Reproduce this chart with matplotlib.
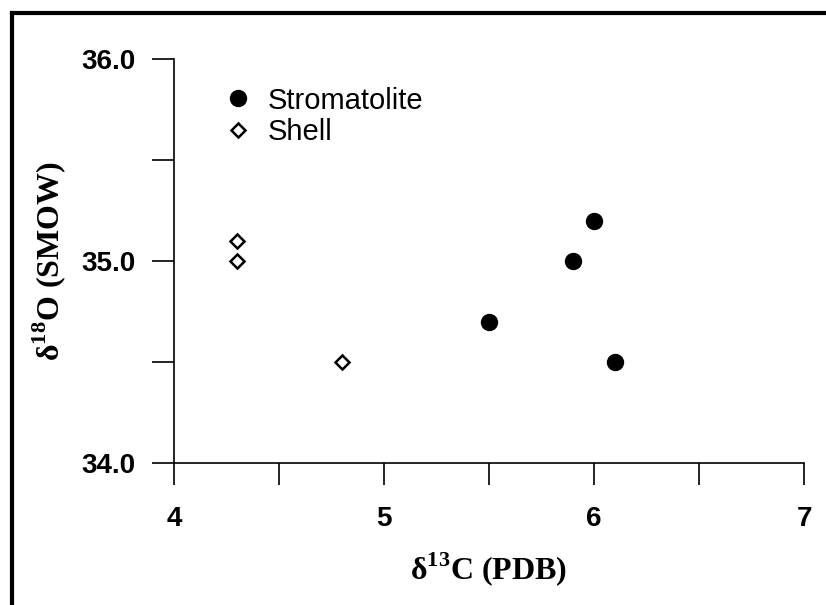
import matplotlib
matplotlib.use("Agg")
import matplotlib.pyplot as plt
from matplotlib.lines import Line2D

# carbon / oxygen isotope values
strom_d13c = [6.0, 5.9, 5.5, 6.1]
strom_d18o = [35.2, 35.0, 34.7, 34.5]
shell_d13c = [4.3, 4.3, 4.8]
shell_d18o = [35.1, 35.0, 34.5]

x_ticks = [4, 4.5, 5, 5.5, 6, 6.5, 7]
x_labels = ["4", "", "5", "", "6", "", "7"]
y_ticks = [34.0, 34.5, 35.0, 35.5, 36.0]
y_labels = ["34.0", "", "35.0", "", "36.0"]

plt.rcParams["mathtext.fontset"] = "custom"
plt.rcParams["mathtext.rm"] = "Liberation Serif"
plt.rcParams["mathtext.bf"] = "Liberation Serif:bold"

fig = plt.figure(figsize=(8.26, 6.05), dpi=100)
ax = fig.add_axes([174 / 826, 1 - 463 / 605, 630 / 826, 404 / 605])

ax.plot(strom_d13c, strom_d18o, "o", color="black", markersize=11.5,
        linestyle="none", label="Stromatolite", clip_on=False)
ax.plot(shell_d13c, shell_d18o, "D", markerfacecolor="white", markeredgecolor="black",
        markeredgewidth=1.8, markersize=7.5, linestyle="none", label="Shell", clip_on=False)

ax.set_xlim(4, 7)
ax.set_ylim(34, 36)
ax.set_xticks(x_ticks)
ax.set_xticklabels(x_labels)
ax.set_yticks(y_ticks)
ax.set_yticklabels(y_labels)

for side in ["top", "right"]:
    ax.spines[side].set_visible(False)
for side in ["left", "bottom"]:
    ax.spines[side].set_linewidth(1.2)

ax.tick_params(axis="both", direction="out", length=16, width=1.2)
ax.tick_params(axis="x", pad=15)
ax.tick_params(axis="y", pad=12)
for lbl in ax.get_xticklabels() + ax.get_yticklabels():
    lbl.set_fontfamily("Liberation Sans")
    lbl.set_fontweight("bold")
    lbl.set_fontsize(20)

ax.set_xlabel(r"δ$^{\mathbf{13}}$C (PDB)", fontfamily="Liberation Serif",
              fontweight="bold", fontsize=23)
ax.set_ylabel(r"δ$^{\mathbf{18}}$O (SMOW)", fontfamily="Liberation Serif",
              fontweight="bold", fontsize=23)
ax.xaxis.set_label_coords(0.5, -0.215)
ax.yaxis.set_label_coords(-0.168, 0.5)

leg = ax.legend(loc="upper left", bbox_to_anchor=(0.06, 0.968), frameon=False,
                prop={"family": "Liberation Sans", "size": 21},
                handlelength=0.8, handletextpad=0.6, labelspacing=0.12, borderpad=0)

# page frame around the figure
fig.add_artist(Line2D([12 / 826, 12 / 826], [0, 1 - 13 / 605], transform=fig.transFigure,
                      color="black", linewidth=3))
fig.add_artist(Line2D([12 / 826, 1], [1 - 13 / 605, 1 - 13 / 605], transform=fig.transFigure,
                      color="black", linewidth=3))

fig.savefig("out.png", dpi=100)
